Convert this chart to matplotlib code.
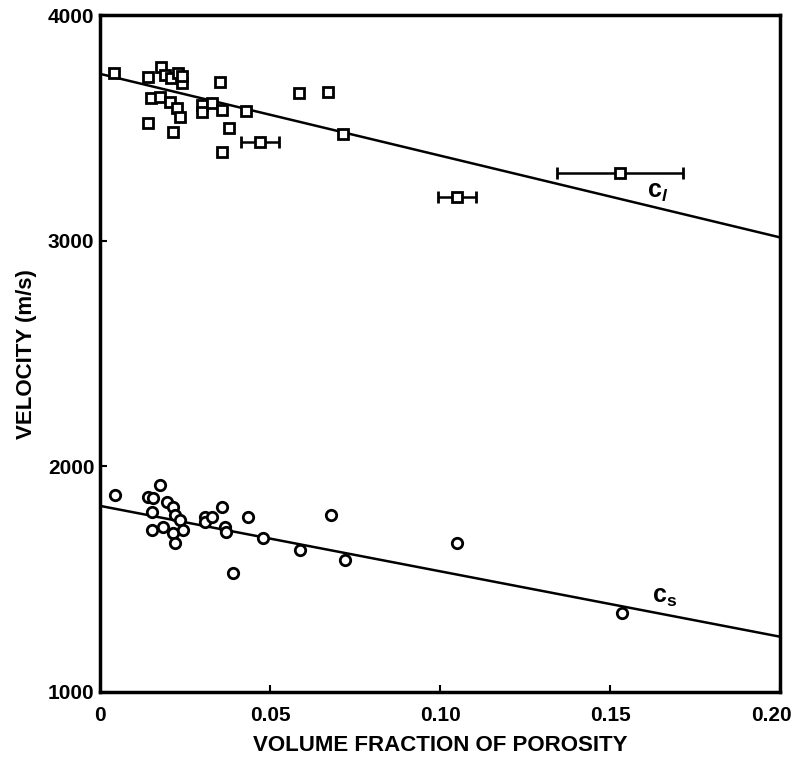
import matplotlib
matplotlib.use('Agg')
from matplotlib import pyplot as plt
from matplotlib import transforms

# longitudinal velocity c_l (squares)
cl_x = [0.004, 0.014, 0.018, 0.019, 0.021, 0.023, 0.024, 0.024, 0.015, 0.0176, 0.0206,
        0.0226, 0.0235, 0.014, 0.0215, 0.030, 0.030, 0.033, 0.0353, 0.036, 0.036,
        0.038, 0.043, 0.0585, 0.067, 0.0715]
cl_y = [3745, 3725, 3770, 3735, 3720, 3745, 3700, 3730, 3632, 3636, 3615,
        3588, 3548, 3522, 3482, 3601, 3570, 3610, 3703, 3579, 3393,
        3500, 3575, 3655, 3660, 3475]
# points with horizontal error bars
cl_err_x = [0.047, 0.105, 0.153]
cl_err_y = [3440, 3195, 3300]
cl_err_dx = [0.0055, 0.0055, 0.0185]

# shear velocity c_s (circles)
cs_x = [0.0044, 0.0176, 0.014, 0.0156, 0.0197, 0.0215, 0.0153, 0.022, 0.0235, 0.0153,
        0.0186, 0.0215, 0.022, 0.0244, 0.031, 0.031, 0.033, 0.036, 0.0368, 0.037,
        0.039, 0.0435, 0.048, 0.0588, 0.068, 0.072, 0.105, 0.1535]
cs_y = [1873, 1918, 1865, 1860, 1843, 1820, 1798, 1785, 1763, 1719,
        1732, 1705, 1661, 1719, 1776, 1754, 1776, 1820, 1732, 1710,
        1528, 1776, 1683, 1630, 1785, 1586, 1660, 1350]

# fitted lines
fit_x = [0.0, 0.20]
cl_fit = [3740, 3015]
cs_fit = [1825, 1245]

plt.rcParams['font.family'] = ['Liberation Sans', 'DejaVu Sans']
plt.rcParams['font.weight'] = 'bold'
plt.rcParams['mathtext.fontset'] = 'custom'
plt.rcParams['mathtext.rm'] = 'Liberation Sans:bold'
plt.rcParams['mathtext.it'] = 'Liberation Sans:italic:bold'
plt.rcParams['mathtext.bf'] = 'Liberation Sans:bold'

fig = plt.figure(figsize=(7.96, 7.59), dpi=100)
ax = fig.add_axes([0.1256, 0.0883, 0.8544, 0.8917])

ax.plot(fit_x, cl_fit, color='black', linewidth=1.8)
ax.plot(fit_x, cs_fit, color='black', linewidth=1.8)

ax.plot(cl_x, cl_y, linestyle='none', marker='s', markersize=7, markerfacecolor='white',
        markeredgecolor='black', markeredgewidth=2)
ax.errorbar(cl_err_x, cl_err_y, xerr=cl_err_dx, fmt='s', markersize=7, markerfacecolor='white',
            markeredgecolor='black', markeredgewidth=2, ecolor='black', elinewidth=1.8,
            capsize=4, capthick=1.8, zorder=3)
ax.plot(cs_x, cs_y, linestyle='none', marker='o', markersize=7.5, markerfacecolor='white',
        markeredgecolor='black', markeredgewidth=2)

ax.text(0.164, 3216, r'$\mathbf{c}_{\mathit{l}}$', fontsize=18, ha='center', va='center')
ax.text(0.166, 1422, r'$\mathbf{c}_{\mathbf{s}}$', fontsize=18, ha='center', va='center')

ax.set_xlim(0, 0.20)
ax.set_ylim(1000, 4000)
ax.set_xticks([0, 0.05, 0.10, 0.15, 0.20])
ax.set_xticklabels(['0', '0.05', '0.10', '0.15', '0.20'])
ax.set_yticks([1000, 2000, 3000, 4000])
ax.tick_params(direction='in', length=5, width=1.5, labelsize=15)
ax.tick_params(axis='x', pad=10)
ax.tick_params(axis='y', pad=4)
for label in ax.get_xticklabels() + ax.get_yticklabels():
    label.set_fontweight('bold')
# keep the last x label inside the figure, as in the original
last = ax.get_xticklabels()[-1]
last.set_transform(last.get_transform() + transforms.ScaledTranslation(-6 / 72, 0, fig.dpi_scale_trans))
for spine in ax.spines.values():
    spine.set_linewidth(2.5)

ax.set_xlabel('VOLUME FRACTION OF POROSITY', fontsize=16, fontweight='bold', labelpad=7)
ax.set_ylabel('VELOCITY (m/s)', fontsize=16, fontweight='bold', labelpad=8)

fig.savefig('out.png', dpi=100)
